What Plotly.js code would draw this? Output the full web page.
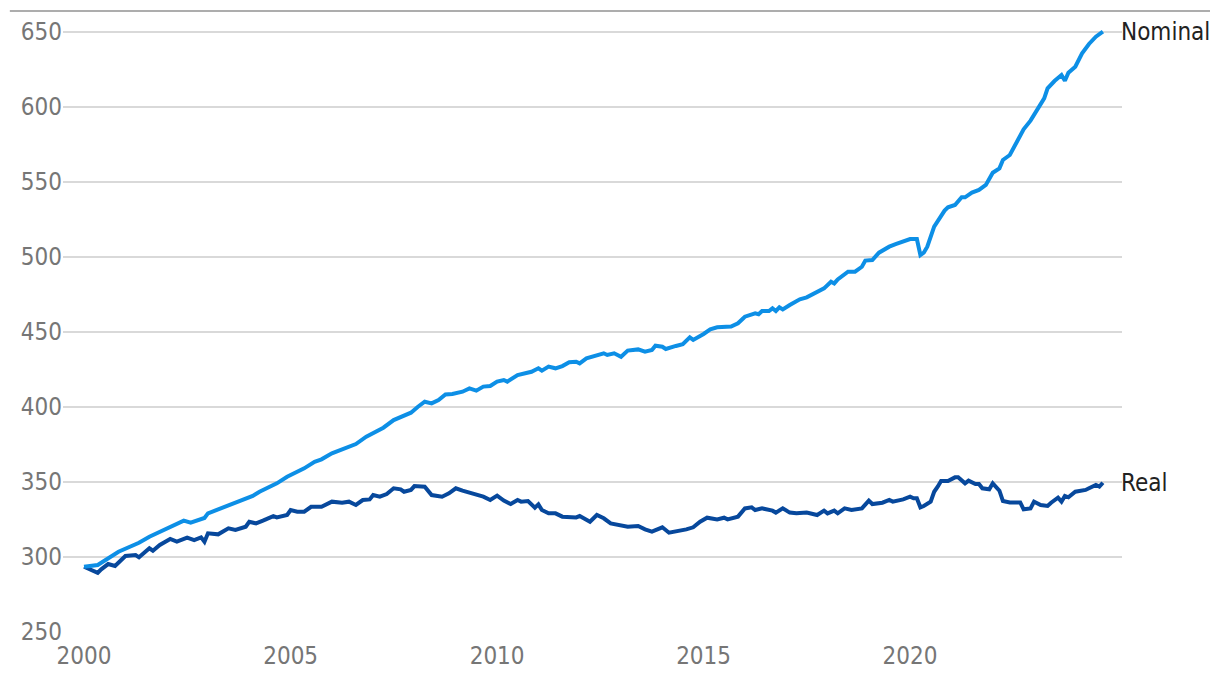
<!DOCTYPE html>
<html>
<head>
<meta charset="utf-8">
<script src="https://cdn.plot.ly/plotly-3.0.1.min.js"></script>
<style>
  html, body { margin: 0; padding: 0; background: #fff; }
  #chart { width: 1220px; height: 676px; }
</style>
</head>
<body>
<div id="chart"></div>
<script>
// values
var nominalDates = ['2000-01','2000-05','2000-11','2001-05','2001-08','2001-11','2002-03','2002-06','2002-08','2002-12',
  '2003-01','2003-07','2004-02','2004-04','2004-09','2004-12','2005-03','2005-05','2005-08','2005-10',
  '2006-01','2006-04','2006-06','2006-08','2006-11','2007-02','2007-04','2007-07','2007-10','2007-12',
  '2008-02','2008-04','2008-06','2008-08','2008-10','2008-12','2009-03','2009-05','2009-07','2009-09',
  '2009-11','2010-01','2010-03','2010-04','2010-07','2010-11','2011-01','2011-02','2011-04','2011-06',
  '2011-08','2011-10','2011-12','2012-01','2012-03','2012-06','2012-08','2012-09','2012-11','2013-01',
  '2013-03','2013-06','2013-08','2013-10','2013-11','2014-01','2014-02','2014-05','2014-07','2014-09',
  '2014-10','2015-01','2015-03','2015-05','2015-09','2015-11','2016-01','2016-04','2016-05','2016-06',
  '2016-08','2016-09','2016-10','2016-11','2016-12','2017-02','2017-05','2017-07','2017-09','2017-12',
  '2018-02','2018-03','2018-04','2018-07','2018-09','2018-11','2018-12','2019-02','2019-04','2019-07',
  '2019-09','2019-12','2020-01','2020-03','2020-04','2020-05','2020-06','2020-08','2020-11','2020-12',
  '2021-02','2021-04','2021-05','2021-07','2021-09','2021-11','2022-01','2022-03','2022-04','2022-06',
  '2022-08','2022-10','2022-12','2023-02','2023-04','2023-05','2023-07','2023-09','2023-10','2023-11',
  '2024-01','2024-03','2024-05','2024-07','2024-09'];
var nominalValues = [293.5,294.7,303.5,309.5,313.5,316.9,321.3,324.2,322.9,326.0,
  329.1,334.7,340.7,343.5,349.1,353.5,356.9,359.1,363.5,365.1,
  369.1,371.8,374.0,375.3,380.2,383.5,386.2,391.3,394.0,396.2,
  400.2,403.5,402.4,404.7,408.4,408.7,410.2,412.4,410.9,413.6,
  414.0,416.9,418.0,416.9,421.3,423.5,425.8,424.2,426.9,425.8,
  427.3,429.8,430.2,429.1,432.4,434.7,435.8,434.7,435.8,433.5,
  437.6,438.4,436.9,438.0,440.9,440.2,438.7,440.7,441.8,446.4,
  444.7,448.7,451.8,453.1,453.6,455.8,460.2,462.4,461.8,464.0,
  464.0,465.8,464.0,466.4,465.0,468.0,471.8,473.1,475.3,479.1,
  483.5,482.4,485.1,490.2,490.2,493.5,497.6,498.0,502.9,506.9,
  508.7,510.9,512.0,512.0,501.3,502.9,506.9,520.2,530.9,533.1,
  534.7,539.8,539.8,542.9,544.7,548.0,556.2,559.1,564.7,568.0,
  576.2,585.1,590.9,598.0,605.8,612.4,617.3,621.3,617.5,622.9,
  626.9,635.8,642.0,646.9,650.2];

var realDates = ['2000-01','2000-05','2000-06','2000-08','2000-10','2001-01','2001-04','2001-05','2001-08','2001-09',
  '2001-11','2002-02','2002-04','2002-07','2002-09','2002-11','2002-12','2003-01','2003-04','2003-07',
  '2003-09','2003-12','2004-01','2004-03','2004-05','2004-08','2004-09','2004-12','2005-01','2005-03',
  '2005-05','2005-07','2005-10','2006-01','2006-04','2006-06','2006-08','2006-10','2006-12','2007-01',
  '2007-03','2007-05','2007-07','2007-09','2007-10','2007-12','2008-01','2008-04','2008-06','2008-09',
  '2008-11','2009-01','2009-03','2009-06','2009-09','2009-11','2010-01','2010-03','2010-05','2010-07',
  '2010-08','2010-10','2010-12','2011-01','2011-02','2011-04','2011-06','2011-08','2011-12','2012-01',
  '2012-04','2012-06','2012-08','2012-10','2012-12','2013-03','2013-06','2013-08','2013-10','2014-01',
  '2014-03','2014-05','2014-08','2014-10','2014-12','2015-02','2015-05','2015-07','2015-08','2015-11',
  '2016-01','2016-03','2016-04','2016-06','2016-09','2016-10','2016-12','2017-02','2017-04','2017-07',
  '2017-09','2017-10','2017-12','2018-01','2018-03','2018-04','2018-06','2018-08','2018-11','2019-01',
  '2019-02','2019-05','2019-07','2019-08','2019-11','2020-01','2020-02','2020-03','2020-04','2020-05',
  '2020-07','2020-08','2020-09','2020-10','2020-12','2021-02','2021-03','2021-05','2021-06','2021-08',
  '2021-09','2021-10','2021-12','2022-01','2022-03','2022-04','2022-06','2022-09','2022-10','2022-12',
  '2023-01','2023-03','2023-05','2023-06','2023-08','2023-09','2023-10','2023-11','2024-01','2024-04',
  '2024-05','2024-07','2024-08','2024-09'];
var realValues = [293.5,289.5,291.8,295.3,294.0,300.7,301.3,299.8,305.8,304.2,
  308.0,312.0,310.2,312.9,311.3,313.1,310.2,315.8,315.1,319.1,
  318.0,320.2,323.5,322.4,324.2,327.3,326.4,328.0,331.3,330.2,
  330.2,333.5,333.5,336.9,336.2,336.9,334.7,338.0,338.4,341.3,
  340.2,342.0,345.8,345.1,343.5,344.7,347.3,346.9,341.3,340.2,
  342.4,345.8,344.2,342.0,340.2,338.0,340.9,337.6,335.3,338.0,
  336.9,337.3,332.9,335.1,331.3,329.1,329.1,326.9,326.4,327.3,
  323.5,328.0,325.8,322.4,321.3,320.2,320.7,318.4,316.9,319.8,
  316.2,316.9,318.4,319.8,323.5,326.2,325.1,326.2,325.1,326.9,
  332.4,333.1,331.3,332.4,330.9,329.6,332.4,329.6,329.1,329.6,
  328.7,328.0,330.9,329.1,330.9,329.1,332.4,331.3,332.4,337.6,
  335.3,336.2,338.0,336.9,338.4,340.2,339.1,339.1,333.1,334.0,
  336.9,343.5,346.9,350.7,350.7,353.1,353.1,349.1,350.9,348.7,
  348.7,345.8,345.1,349.1,344.2,337.3,336.4,336.4,331.8,332.4,
  336.9,334.7,334.0,336.2,339.6,336.9,340.7,339.8,343.5,344.7,
  345.8,348.0,346.9,349.5];

var tickYears = ['2000','2005','2010','2015','2020'];
var yTicks = [250, 300, 350, 400, 450, 500, 550, 600, 650];

var fontFam = '"DejaVu Sans Condensed", "Liberation Sans Narrow", Roboto, sans-serif';

var nominal = {
  x: nominalDates,
  y: nominalValues,
  type: 'scatter',
  mode: 'lines',
  name: 'Nominal',
  line: { color: '#0d8fe6', width: 4 }
};

var real = {
  x: realDates,
  y: realValues,
  type: 'scatter',
  mode: 'lines',
  name: 'Real',
  line: { color: '#07489c', width: 4 }
};

var layout = {
  width: 1220,
  height: 676,
  margin: { l: 63, r: 98, t: 11, b: 44 },
  paper_bgcolor: '#fff',
  plot_bgcolor: '#fff',
  showlegend: false,
  hovermode: false,
  font: { family: fontFam, size: 24, color: '#767676' },
  xaxis: {
    type: 'date',
    range: ['1999-06-29', '2025-02-17'],
    tickvals: tickYears.map(function (y) { return y + '-01-01'; }),
    ticktext: tickYears,
    showgrid: false,
    zeroline: false,
    showline: false,
    ticks: '',
    ticklabelstandoff: 7,
    tickfont: { family: fontFam, size: 24, color: '#767676' }
  },
  yaxis: {
    range: [250, 664],
    tickvals: yTicks,
    showgrid: true,
    gridcolor: '#d9d9d9',
    gridwidth: 1.5,
    zeroline: false,
    showline: false,
    ticks: '',
    tickfont: { family: fontFam, size: 24, color: '#767676' }
  },
  shapes: [{
    type: 'line', xref: 'paper', yref: 'paper',
    x0: -0.0502, x1: 1.0831, y0: 1, y1: 1,
    line: { color: '#adadad', width: 2 }
  }],
  annotations: [{
    x: nominalDates[nominalDates.length - 1],
    y: nominalValues[nominalValues.length - 1],
    text: 'Nominal', showarrow: false,
    xanchor: 'left', yanchor: 'middle', xshift: 16,
    font: { family: fontFam, size: 24, color: '#222' }
  }, {
    x: realDates[realDates.length - 1],
    y: realValues[realValues.length - 1],
    text: 'Real', showarrow: false,
    xanchor: 'left', yanchor: 'middle', xshift: 16,
    font: { family: fontFam, size: 24, color: '#222' }
  }]
};

Plotly.newPlot('chart', [real, nominal], layout, { displayModeBar: false, staticPlot: true });
</script>
</body>
</html>
